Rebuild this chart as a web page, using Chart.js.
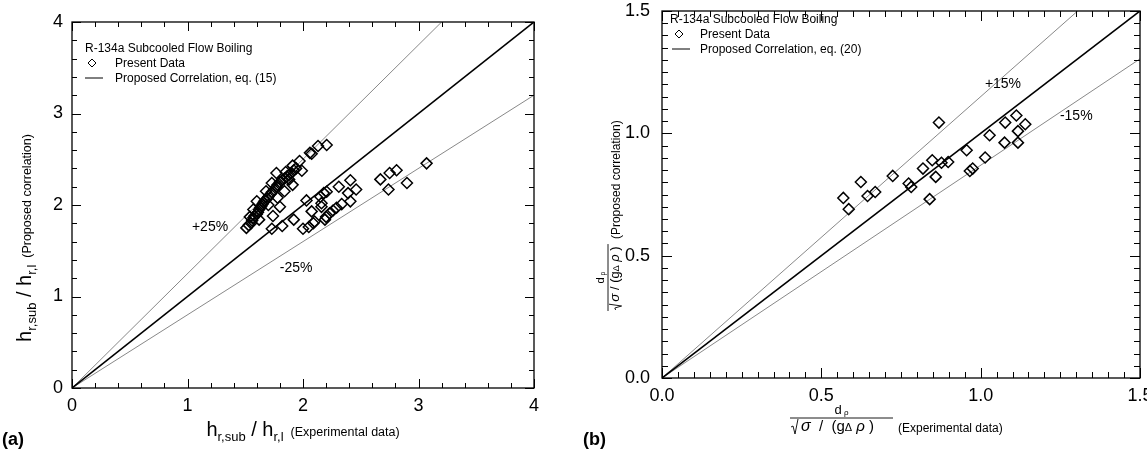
<!DOCTYPE html>
<html>
<head>
<meta charset="utf-8">
<script src="https://cdn.jsdelivr.net/npm/chart.js@4/dist/chart.umd.min.js"></script>
<style>
  html, body { margin: 0; padding: 0; background: #fff; }
  #wrap { position: relative; width: 1147px; height: 454px; overflow: hidden; }
  canvas { position: absolute; top: 0; }
  #chartA { left: 0; }
  #chartB { left: 560px; }
</style>
</head>
<body>
<div id="wrap">
  <canvas id="chartA" width="560" height="454"></canvas>
  <canvas id="chartB" width="600" height="454"></canvas>
</div>
<script>
const FONT = '"Liberation Sans", Arial, Helvetica, sans-serif';

// (a) heat transfer coefficient ratio
const hExp = [1.51, 1.53, 1.55, 1.56, 1.57, 1.58, 1.60, 1.61, 1.62, 1.63, 1.64, 1.65, 1.66, 1.67, 1.69, 1.70,
  1.72, 1.73, 1.75, 1.77, 1.78, 1.80, 1.82, 1.84, 1.86, 1.88, 1.90, 1.92, 1.94, 1.91, 1.97, 2.06, 2.13, 2.205,
  1.77, 1.73, 1.99, 1.91, 1.84, 1.78, 1.80, 1.74, 1.60, 1.57, 1.54, 1.62, 1.70, 1.68, 1.88, 1.85, 2.075,
  2.205, 2.15, 2.03, 2.16, 2.075, 1.92, 1.82, 1.73, 2.00, 2.09, 2.10, 2.05, 2.18, 2.16,
  3.07, 2.81, 2.75, 2.67, 2.90, 2.74, 2.41, 2.31, 2.46, 2.39, 2.41, 2.335, 2.29, 2.26, 2.23, 2.20, 2.19];
const hCorr = [1.75, 1.78, 1.80, 1.83, 1.86, 1.88, 1.90, 1.92, 1.95, 1.97, 1.99, 2.01, 2.03, 2.05, 2.07, 2.09,
  2.12, 2.14, 2.17, 2.20, 2.22, 2.25, 2.27, 2.29, 2.31, 2.33, 2.35, 2.38, 2.40, 2.43, 2.48, 2.57, 2.645, 2.656,
  2.35, 2.24, 2.375, 2.22, 2.15, 2.08, 1.98, 1.88, 2.04, 1.95, 1.87, 1.84, 2.00, 2.15, 2.28, 2.36, 2.56,
  2.145, 2.09, 2.05, 1.98, 1.93, 1.84, 1.77, 1.74, 1.74, 1.80, 1.82, 1.76, 2.13, 2.02,
  2.455, 2.38, 2.35, 2.28, 2.24, 2.17, 2.27, 2.20, 2.17, 2.13, 2.04, 2.01, 1.97, 1.94, 1.91, 1.87, 1.84];
const hSlopes = [1, 1.25, 0.8];
const hNotes = [['+25%', 1.195, 1.76], ['-25%', 1.94, 1.31]];

// (b) bubble departure diameter
const dExp = [0.869, 0.569, 0.586, 0.624, 0.645, 0.669, 0.724, 0.774, 0.782, 0.819, 0.848, 0.877, 0.898,
  0.859, 0.840, 0.956, 0.966, 0.975, 1.014, 1.028, 1.075, 1.077, 1.112, 1.117, 1.117, 1.140];
const dCorr = [1.044, 0.736, 0.690, 0.801, 0.744, 0.760, 0.826, 0.795, 0.781, 0.856, 0.890, 0.880, 0.883,
  0.822, 0.731, 0.931, 0.846, 0.856, 0.901, 0.992, 0.962, 1.044, 1.073, 1.009, 0.962, 1.037];
const dSlopes = [1, 1.15, 1 / 1.15];
const dNotes = [['+15%', 1.07, 1.20], ['-15%', 1.30, 1.07]];

function toPoints(xs, ys) {
  return xs.map((x, i) => ({ x: x, y: ys[i] }));
}

function lineSets(slopes, max) {
  return slopes.map((k, i) => {
    const xEnd = Math.min(max, max / k);
    return {
      data: [{ x: 0, y: 0 }, { x: xEnd, y: k * xEnd }],
      showLine: true,
      pointRadius: 0,
      borderColor: i === 0 ? '#000' : '#555',
      borderWidth: i === 0 ? 1.6 : 0.7
    };
  });
}

// text made of runs: [text, size, dy, style]
function runsWidth(ctx, parts) {
  let w = 0;
  for (const [t, size, dy, style] of parts) {
    ctx.font = (style || '') + ' ' + size + 'px ' + FONT;
    w += ctx.measureText(t).width;
  }
  return w;
}
function runs(ctx, parts, x, y) {
  let cx = x;
  for (const [t, size, dy, style] of parts) {
    ctx.font = (style || '') + ' ' + size + 'px ' + FONT;
    ctx.fillText(t, cx, y + (dy || 0));
    cx += ctx.measureText(t).width;
  }
  return cx - x;
}

// d_p / sqrt(sigma / (g drho)) with the bar at y = 0
function fraction(ctx, tail, big) {
  const s = big ? 1 : 0.85;
  const gap = big ? '  /  (g' : ' / (g';
  const num = [['d', 13 * s], [' \u03c1', 8 * s, 1]];
  const den = [['\u03c3', 16 * s, 0, 'italic'], [gap, 15 * s], ['\u0394', 11 * s], [' \u03c1 ', 15 * s, 0, 'italic'], [')', 15 * s]];
  const dw = Math.max(runsWidth(ctx, den) + 14 * s, big ? 103 : 64);
  const nw = runsWidth(ctx, num);
  runs(ctx, num, (dw - nw) / 2, -4);
  ctx.lineWidth = 0.9;
  ctx.beginPath();
  ctx.moveTo(0, 0); ctx.lineTo(dw, 0);
  ctx.moveTo(1, 9 * s); ctx.lineTo(3, 8 * s); ctx.lineTo(5, 16 * s); ctx.lineTo(8 * s, 1);
  ctx.stroke();
  runs(ctx, den, 11 * s, 13 * s);
  runs(ctx, [[tail, 12]], dw + 5, 13 * s + 1);
}

const decor = {
  id: 'decor',
  afterDraw(chart, args, o) {
    const ctx = chart.ctx, a = chart.chartArea;
    const xs = chart.scales.x, ys = chart.scales.y;
    ctx.save();
    ctx.strokeStyle = '#000';
    ctx.fillStyle = '#000';
    ctx.lineWidth = 1;
    const n = Math.round(o.max / o.minor);
    for (let i = 0; i <= n; i++) {
      const v = i * o.minor;
      const len = i % o.per === 0 ? o.majorLen : o.minorLen;
      const px = Math.round(xs.getPixelForValue(v)) + 0.5;
      const py = Math.round(ys.getPixelForValue(v)) + 0.5;
      ctx.beginPath();
      ctx.moveTo(px, a.bottom); ctx.lineTo(px, a.bottom - len);
      ctx.moveTo(px, a.top); ctx.lineTo(px, a.top + len);
      ctx.moveTo(a.left, py); ctx.lineTo(a.left + len, py);
      ctx.moveTo(a.right, py); ctx.lineTo(a.right - len, py);
      ctx.stroke();
    }
    ctx.lineWidth = 1.3;
    ctx.strokeRect(a.left, a.top, a.right - a.left, a.bottom - a.top);

    // legend
    const L = o.legend;
    ctx.textBaseline = 'alphabetic';
    ctx.textAlign = 'left';
    ctx.font = '12px ' + FONT;
    ctx.fillText('R-134a Subcooled Flow Boiling', L.x, L.y);
    ctx.fillText('Present Data', L.itemX, L.y + 15);
    ctx.fillText(L.corr, L.itemX, L.y + 30);
    const dy = L.y + 11;
    ctx.lineWidth = 1;
    ctx.beginPath();
    ctx.moveTo(L.symX, dy - 4); ctx.lineTo(L.symX + 4, dy); ctx.lineTo(L.symX, dy + 4); ctx.lineTo(L.symX - 4, dy);
    ctx.closePath();
    ctx.stroke();
    ctx.beginPath();
    ctx.moveTo(L.lineX[0], L.y + 26); ctx.lineTo(L.lineX[1], L.y + 26);
    ctx.stroke();

    // band labels
    ctx.font = '14px ' + FONT;
    ctx.textAlign = 'center';
    ctx.textBaseline = 'middle';
    for (const [t, x, y] of o.notes) {
      ctx.fillText(t, xs.getPixelForValue(x), ys.getPixelForValue(y));
    }

    // panel letter and axis titles
    ctx.textAlign = 'left';
    ctx.textBaseline = 'alphabetic';
    ctx.font = 'bold 18px ' + FONT;
    ctx.fillText(o.panel, o.panelX, 445);
    o.titles(ctx, a);
    ctx.restore();
  }
};

function baseOptions(max, step, fmt, pad, yWidth, xHeight, yGap, decorOpts) {
  return {
    responsive: false,
    animation: false,
    devicePixelRatio: 1,
    layout: { padding: pad },
    plugins: { legend: { display: false }, tooltip: { enabled: false }, decor: decorOpts },
    elements: { point: { pointStyle: 'rectRot', radius: 5.5, borderWidth: 1.5, borderColor: '#000', backgroundColor: 'rgba(0,0,0,0)' } },
    scales: {
      x: {
        type: 'linear', min: 0, max: max,
        grid: { display: false, drawTicks: true, tickLength: 7 },
        border: { display: false },
        ticks: { stepSize: step, padding: 0, color: '#000', font: { family: FONT, size: 18 }, callback: fmt },
        afterFit: s => { s.height = xHeight; }
      },
      y: {
        type: 'linear', min: 0, max: max,
        grid: { display: false, drawTicks: true, tickLength: yGap },
        border: { display: false },
        ticks: { stepSize: step, padding: 0, color: '#000', font: { family: FONT, size: 18 }, callback: fmt },
        afterFit: s => { s.width = yWidth; }
      }
    }
  };
}

// nudge layout padding so the plot frame lands where the reference has it
function placeArea(chart, top, right) {
  const a = chart.chartArea;
  const p = Object.assign({}, chart.config.options.layout.padding);
  p.top += top - a.top;
  p.right += a.right - right;
  chart.config.options.layout.padding = p;
  chart.update();
}

const hTitleX = [['h', 20], ['r,sub', 13, 5], [' / h', 20], ['r,l', 13, 5], ['  (Experimental data)', 12.5]];
const hTitleY = [['h', 20], ['r,sub', 13, 5], [' / h', 20], ['r,l', 13, 5], ['  (Proposed correlation)', 12.5]];

const chartA = new Chart(document.getElementById('chartA'), {
  type: 'scatter',
  data: {
    datasets: [{ data: toPoints(hExp, hCorr) }].concat(lineSets(hSlopes, 4))
  },
  options: baseOptions(4, 1, v => String(v), { top: 22, right: 26, left: 0, bottom: 0 }, 72, 66, 9, {
    max: 4, minor: 0.2, per: 5, majorLen: 9, minorLen: 5,
    legend: { x: 85, y: 52, itemX: 115, symX: 92, lineX: [85, 103], corr: 'Proposed Correlation, eq. (15)' },
    notes: hNotes,
    panel: '(a)', panelX: 2,
    titles(ctx, a) {
      const w = runsWidth(ctx, hTitleX);
      runs(ctx, hTitleX, (a.left + a.right) / 2 - w / 2, 436);
      const wy = runsWidth(ctx, hTitleY);
      ctx.save();
      ctx.translate(31, 238);
      ctx.rotate(-Math.PI / 2);
      runs(ctx, hTitleY, -wy / 2, 0);
      ctx.restore();
    }
  }),
  plugins: [decor]
});
placeArea(chartA, 22, 534);

const chartB = new Chart(document.getElementById('chartB'), {
  type: 'scatter',
  data: {
    datasets: [{ data: toPoints(dExp, dCorr) }].concat(lineSets(dSlopes, 1.5))
  },
  options: baseOptions(1.5, 0.5, v => v.toFixed(1), { top: 11, right: 20, left: 2, bottom: 0 }, 100, 76, 12, {
    max: 1.5, minor: 0.05, per: 10, majorLen: 10, minorLen: 6,
    legend: { x: 110, y: 23, itemX: 140, symX: 119, lineX: [112, 130], corr: 'Proposed Correlation, eq. (20)' },
    notes: dNotes,
    panel: '(b)', panelX: 23,
    titles(ctx, a) {
      ctx.save();
      ctx.translate(230, 418);
      fraction(ctx, '(Experimental data)', true);
      ctx.restore();
      ctx.save();
      ctx.translate(48, 311);
      ctx.rotate(-Math.PI / 2);
      fraction(ctx, '(Proposed correlation)', false);
      ctx.restore();
    }
  }),
  plugins: [decor]
});
placeArea(chartB, 11, 580);
</script>
</body>
</html>
